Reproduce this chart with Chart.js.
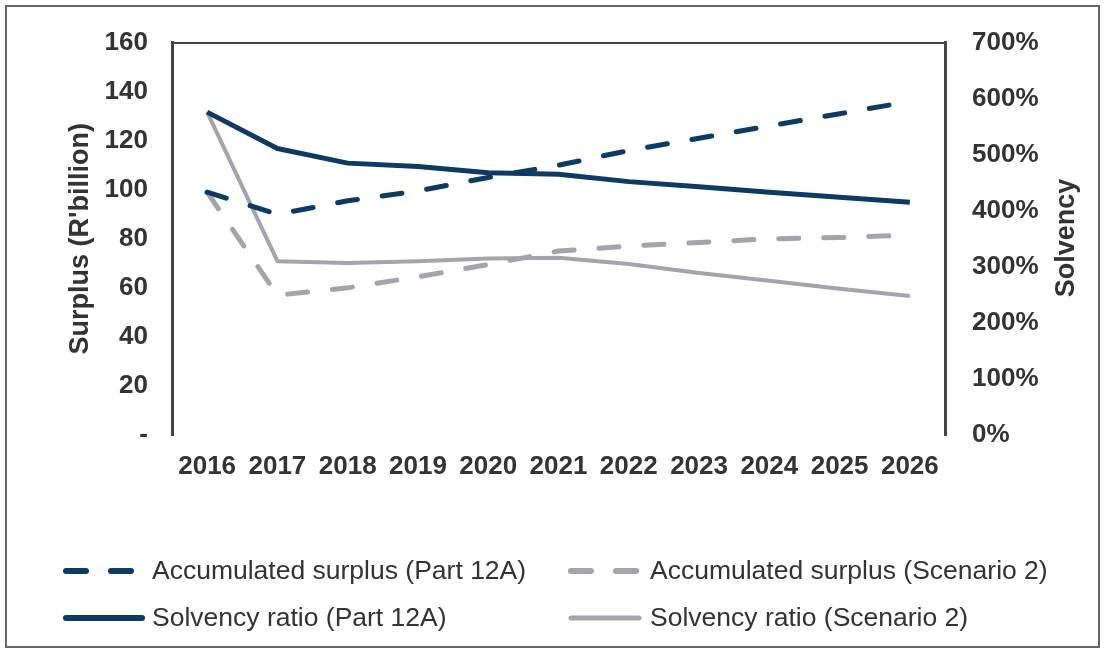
<!DOCTYPE html>
<html>
<head>
<meta charset="utf-8">
<script src="https://cdn.jsdelivr.net/npm/chart.js@4/dist/chart.umd.min.js"></script>
<style>
  html, body { margin: 0; padding: 0; background: #fff; }
  #wrap { position: relative; width: 1105px; height: 653px; }
</style>
</head>
<body>
<div id="wrap"><canvas id="grafico" width="1105" height="653"></canvas></div>
<script>
const anos = ['2016', '2017', '2018', '2019', '2020', '2021', '2022', '2023', '2024', '2025', '2026'];
const surplusPart12A = [99, 90, 95.5, 99.5, 105, 110, 116, 121, 126, 131, 136];
const surplusScen2 = [99, 57, 60, 64.5, 69.5, 75, 77, 78.5, 80, 80.5, 81.5];
const solvencyPart12A = [576, 511, 485, 479, 468, 465, 452, 443, 433, 424, 415];
const solvencyScen2 = [576, 310, 307, 310, 315, 316, 305, 289, 275, 261, 248];

const azul = '#0e3a64';
const cinza = '#a4a4ae';
const texto = '#333333';

// legenda em duas colunas + título do eixo direito (lido de baixo para cima)
const extras = {
    id: 'extras',
    afterDraw(chart) {
        const ctx = chart.ctx;
        ctx.save();
        // moldura externa
        ctx.strokeStyle = '#666';
        ctx.lineWidth = 2;
        ctx.strokeRect(6, 6, 1093, 641);

        // título direito
        ctx.fillStyle = texto;
        ctx.font = 'bold 27px "Liberation Sans", Arial, sans-serif';
        ctx.textAlign = 'center';
        ctx.textBaseline = 'middle';
        ctx.translate(1067, 238);
        ctx.rotate(-Math.PI / 2);
        ctx.fillText('Solvency', 0, 0);
        ctx.restore();

        const cols = [[63, 145, 152], [568, 642, 650]];
        const rows = [571, 618];
        chart.data.datasets.forEach((ds, i) => {
            const c = cols[i % 2];
            const y = rows[Math.floor(i / 2)];
            ctx.save();
            ctx.strokeStyle = ds.borderColor;
            ctx.lineWidth = ds.borderWidth + 1;
            ctx.lineCap = 'round';
            ctx.setLineDash(ds.borderDash || []);
            ctx.beginPath();
            ctx.moveTo(c[0] + 3, y);
            ctx.lineTo(c[1] - 3, y);
            ctx.stroke();
            ctx.setLineDash([]);
            ctx.fillStyle = texto;
            ctx.font = '26.5px "Liberation Sans", Arial, sans-serif';
            ctx.textAlign = 'left';
            ctx.textBaseline = 'middle';
            ctx.fillText(ds.label, c[2], y + 1);
            ctx.restore();
        });
    }
};

const fonteTick = { family: '"Liberation Sans", Arial, sans-serif', size: 26, weight: 'bold' };

new Chart(document.getElementById('grafico').getContext('2d'), {
    type: 'line',
    data: {
        labels: anos,
        datasets: [
            { label: 'Accumulated surplus (Part 12A)', data: surplusPart12A, yAxisID: 'y',
              borderColor: azul, borderWidth: 5, borderDash: [20, 25], borderCapStyle: 'round', order: 1 },
            { label: 'Accumulated surplus (Scenario 2)', data: surplusScen2, yAxisID: 'y',
              borderColor: cinza, borderWidth: 5, borderDash: [20, 25], borderCapStyle: 'round', order: 3 },
            { label: 'Solvency ratio (Part 12A)', data: solvencyPart12A, yAxisID: 'y1',
              borderColor: azul, borderWidth: 5, order: 2 },
            { label: 'Solvency ratio (Scenario 2)', data: solvencyScen2, yAxisID: 'y1',
              borderColor: cinza, borderWidth: 4, order: 4 }
        ]
    },
    options: {
        responsive: false,
        animation: false,
        layout: { padding: { left: 0, right: 0, top: 40, bottom: 158 } },
        elements: { point: { radius: 0 }, line: { tension: 0, fill: false, borderJoinStyle: 'round' } },
        plugins: { legend: { display: false }, tooltip: { enabled: false } },
        scales: {
            x: {
                position: 'bottom',
                offset: true,
                grid: { display: false, offset: true, drawTicks: false },
                border: { display: false },
                ticks: { color: texto, font: fonteTick, padding: 16, maxRotation: 0, autoSkip: false },
                afterFit: s => { s.height = 60; }
            },
            xTopo: {
                type: 'category',
                position: 'top',
                labels: anos,
                offset: true,
                grid: { display: false, drawTicks: false },
                border: { display: true, color: '#444', width: 2 },
                ticks: { display: false },
                afterFit: s => { s.height = 0; }
            },
            y: {
                position: 'left',
                min: 0, max: 160,
                grid: { display: false, drawTicks: false },
                border: { display: true, color: '#444', width: 3 },
                ticks: { stepSize: 20, color: texto, font: fonteTick, padding: 24,
                         callback: v => v === 0 ? '-' : v },
                title: { display: true, text: "Surplus (R'billion)", color: texto,
                         font: { family: '"Liberation Sans", Arial, sans-serif', size: 27, weight: 'bold' },
                         padding: { top: 64, bottom: 0 } },
                afterFit: s => { s.width = 172; }
            },
            y1: {
                position: 'right',
                min: 0, max: 700,
                grid: { display: false, drawTicks: false },
                border: { display: true, color: '#444', width: 3 },
                ticks: { stepSize: 100, color: texto, font: fonteTick, padding: 27,
                         callback: v => v + '%' },
                afterFit: s => { s.width = 160; }
            }
        }
    },
    plugins: [extras]
});
</script>
</body>
</html>
